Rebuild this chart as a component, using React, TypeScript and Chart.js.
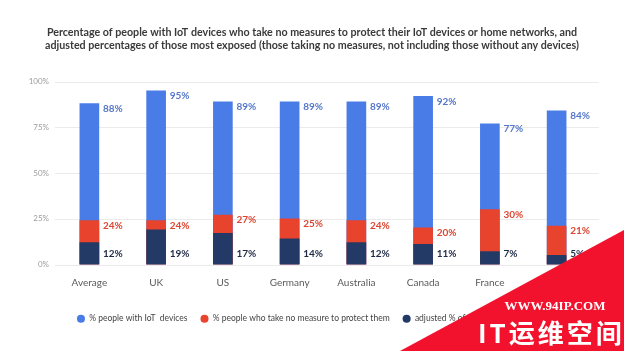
import React, { useEffect, useRef } from "react";
import { Chart, registerables } from "chart.js";

Chart.register(...registerables);

const categories = ["Average", "UK", "US", "Germany", "Australia", "Canada", "France", "Japan"];
const iotDevices = [88, 95, 89, 89, 89, 92, 77, 84];
const noMeasures = [24, 24, 27, 25, 24, 20, 30, 21];
const adjusted = [12, 19, 17, 14, 12, 11, 7, 5];
const yTicks = [0, 25, 50, 75, 100];
const seriesNames = [
  "% people with IoT  devices",
  "% people who take no measure to protect them",
  "adjusted % of people most exposed",
];
const titleLines = [
  "Percentage of people with IoT devices who take no measures to protect their IoT devices or home networks, and",
  "adjusted percentages of those most exposed (those taking no measures, not including those without any devices)",
];
const barColors = ["#4a7ce8", "#e8432d", "#233a66"];
const labelColors = ["#5577c9", "#dd4632", "#1f2a45"];

const FONT = "Lato, 'Open Sans', sans-serif";

const gridPlugin = {
  id: "extGrid",
  beforeDatasetsDraw(chart: any) {
    const { ctx, chartArea } = chart;
    const y = chart.scales.y;
    ctx.save();
    ctx.strokeStyle = "#ebebeb";
    ctx.lineWidth = 1;
    y.ticks.forEach((t: any) => {
      const py = Math.round(y.getPixelForValue(t.value)) + 0.5;
      ctx.beginPath();
      ctx.moveTo(chartArea.left - 1, py);
      ctx.lineTo(chartArea.right + 9, py);
      ctx.stroke();
    });
    ctx.restore();
  },
};

const labelPlugin = {
  id: "barLabels",
  afterDatasetsDraw(chart: any) {
    const { ctx } = chart;
    const y = chart.scales.y;
    ctx.save();
    ctx.font = `bold 10px ${FONT}`;
    ctx.textAlign = "left";
    ctx.textBaseline = "middle";
    chart.data.datasets.forEach((ds: any, di: number) => {
      const meta = chart.getDatasetMeta(di);
      meta.data.forEach((bar: any, i: number) => {
        const x = bar.x + bar.width / 2 + 4;
        const py = di === 2 ? y.getPixelForValue(0) - 11 : bar.y + 5;
        ctx.fillStyle = labelColors[di];
        ctx.fillText(ds.data[i] + "%", x, py);
      });
    });
    ctx.restore();
  },
};

export default function App() {
  const ref = useRef<HTMLCanvasElement>(null);

  useEffect(() => {
    document.body.style.margin = "0";
    const canvas = ref.current;
    if (!canvas) return;
    const chart = new Chart(canvas, {
      type: "bar",
      data: {
        labels: categories,
        datasets: [
          { label: seriesNames[0], data: iotDevices, backgroundColor: barColors[0], order: 3 },
          { label: seriesNames[1], data: noMeasures, backgroundColor: barColors[1], order: 2 },
          { label: seriesNames[2], data: adjusted, backgroundColor: barColors[2], order: 1 },
        ],
      },
      options: {
        responsive: false,
        animation: false,
        datasets: { bar: { grouped: false, barThickness: 19 } } as any,
        layout: { padding: { left: 0, right: 0, top: 0, bottom: 18 } },
        scales: {
          x: {
            offset: true,
            grid: { display: false, drawTicks: false },
            border: { display: false },
            ticks: { color: "#5a5a5a", font: { family: FONT, size: 10 }, padding: 12, maxRotation: 0 },
            afterFit: (s: any) => {
              s.height += 1;
            },
          },
          y: {
            min: 0,
            max: 100,
            grid: { display: false, drawTicks: false },
            border: { display: false },
            afterBuildTicks: (s: any) => {
              s.ticks = yTicks.map((v) => ({ value: v }));
            },
            ticks: {
              color: "#9c9c9c",
              font: { family: FONT, size: 8 },
              padding: 7,
              callback: (v: any) => v + "%",
            },
            afterFit: (s: any) => {
              s.width = 56;
            },
          },
          yR: {
            position: "right",
            display: true,
            grid: { display: false, drawTicks: false },
            border: { display: false },
            ticks: { display: false },
            afterFit: (s: any) => {
              s.width = 34;
            },
          },
        },
        plugins: {
          title: {
            display: true,
            text: titleLines,
            color: "#3a3a3a",
            font: { family: FONT, size: 10.7, weight: "bold", lineHeight: 1.2 },
            padding: { top: 26, bottom: 30 },
          },
          legend: {
            display: true,
            position: "bottom",
            labels: {
              usePointStyle: true,
              pointStyle: "circle",
              boxHeight: 5.7,
              boxWidth: 8,
              padding: 13,
              color: "#444444",
              font: { family: FONT, size: 8.5 },
              sort: (a: any, b: any) => a.datasetIndex - b.datasetIndex,
            },
          },
          tooltip: { enabled: false },
        },
      },
      plugins: [gridPlugin, labelPlugin],
    } as any);
    return () => chart.destroy();
  }, []);

  return (
    <div style={{ position: "relative", width: 624, height: 351, overflow: "hidden", background: "#fff" }}>
      <canvas ref={ref} width={624} height={351} style={{ display: "block" }} />
      <div
        style={{
          position: "absolute",
          left: 0,
          top: 0,
          width: 624,
          height: 351,
          background: "#f2122d",
          clipPath: "polygon(400px 351px, 624px 230px, 624px 351px)",
        }}
      />
      <div
        style={{
          position: "absolute",
          left: 500,
          top: 298,
          width: 110,
          textAlign: "center",
          color: "#fff",
          fontFamily: "'Liberation Serif', serif",
          fontWeight: "bold",
          fontSize: 13,
          lineHeight: "16px",
          whiteSpace: "nowrap",
        }}
      >
        WWW.94IP.COM
      </div>
      <div
        style={{
          position: "absolute",
          left: 478,
          top: 317,
          color: "#fff",
          fontFamily: "'Noto Sans CJK SC', sans-serif",
          fontWeight: "bold",
          fontSize: 26,
          lineHeight: "30px",
          letterSpacing: 3,
          whiteSpace: "nowrap",
        }}
      >
        IT运维空间
      </div>
    </div>
  );
}
